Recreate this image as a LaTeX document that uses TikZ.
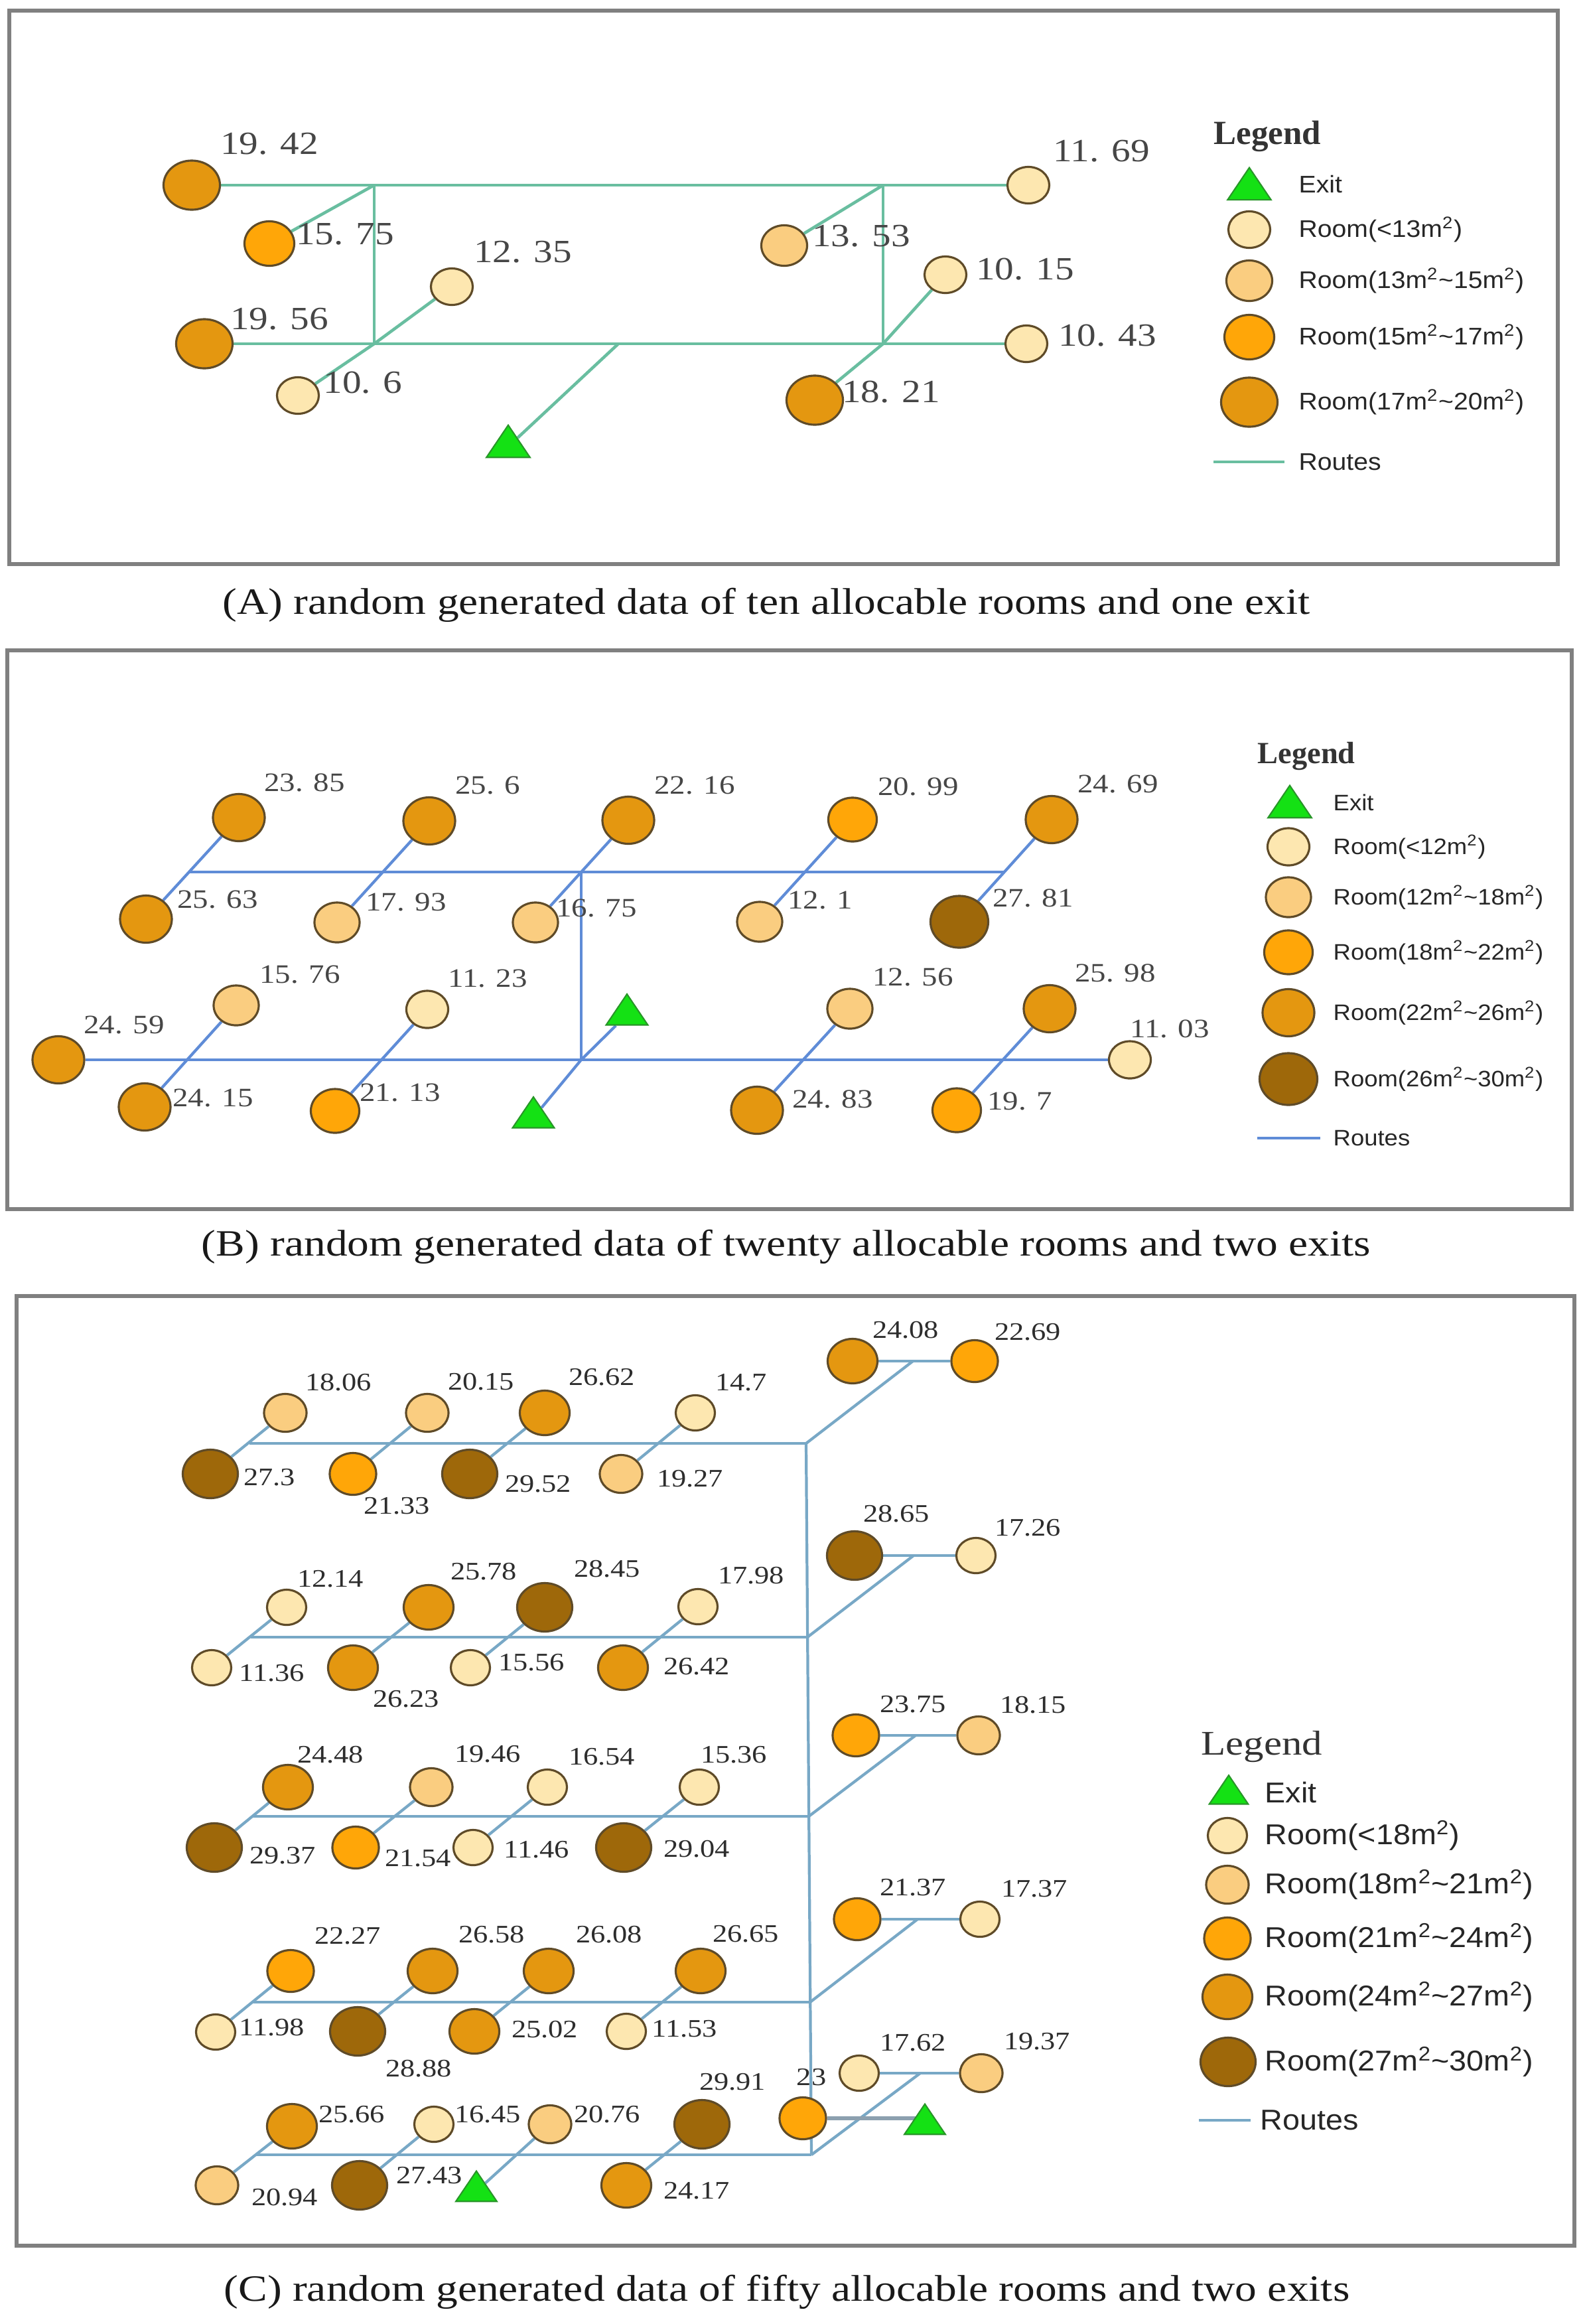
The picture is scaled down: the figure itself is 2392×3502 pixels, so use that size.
\documentclass[tikz,border=0pt]{standalone}
\usepackage{fontspec}
\setmainfont{Liberation Serif}
\newfontfamily\numf[FakeStretch=1.17]{Liberation Serif}
\newfontfamily\ttlf{Liberation Serif}
\newfontfamily\legf[FakeStretch=1.08]{Liberation Sans}
\usetikzlibrary{shapes.geometric}
\pgfdeclarelayer{paper}
\pgfdeclarelayer{bg}
\pgfsetlayers{paper,bg,main}
\definecolor{framec}{RGB}{128,128,128}
\definecolor{rA}{RGB}{105,190,160}
\definecolor{rB}{RGB}{95,140,215}
\definecolor{rC}{RGB}{120,168,198}
\definecolor{rCd}{RGB}{140,160,175}
\definecolor{f1}{RGB}{253,231,176}
\definecolor{f2}{RGB}{250,205,128}
\definecolor{f3}{RGB}{255,166,8}
\definecolor{f4}{RGB}{228,151,16}
\definecolor{f5}{RGB}{158,104,10}
\definecolor{edgec}{RGB}{95,75,40}
\definecolor{eg}{RGB}{20,225,20}
\definecolor{ege}{RGB}{40,150,40}
\definecolor{labc}{RGB}{70,70,70}
\definecolor{labcC}{RGB}{45,45,45}
\tikzset{
  rm/.style n args={3}{ellipse, draw=edgec, line width=0.9pt, fill=#1, minimum width=#2, minimum height=#3, inner sep=0pt},
  a1/.style={rm={f1}{0.63cm}{0.55cm}},
  a2/.style={rm={f2}{0.69cm}{0.61cm}},
  a3/.style={rm={f3}{0.75cm}{0.67cm}},
  a4/.style={rm={f4}{0.85cm}{0.74cm}},
  b1/.style={rm={f1}{0.63cm}{0.56cm}},
  b2/.style={rm={f2}{0.68cm}{0.60cm}},
  b3/.style={rm={f3}{0.73cm}{0.66cm}},
  b4/.style={rm={f4}{0.78cm}{0.71cm}},
  b5/.style={rm={f5}{0.87cm}{0.78cm}},
  c1/.style={rm={f1}{0.59cm}{0.53cm}},
  c2/.style={rm={f2}{0.64cm}{0.57cm}},
  c3/.style={rm={f3}{0.70cm}{0.63cm}},
  c4/.style={rm={f4}{0.75cm}{0.67cm}},
  c5/.style={rm={f5}{0.83cm}{0.73cm}},
  exitsh/.style={regular polygon, regular polygon sides=3, fill=eg, draw=ege, line width=0.6pt, inner sep=0pt, minimum size=#1},
  labA/.style={font={\numf\fontsize{13.9pt}{16pt}\selectfont}, text=labc, inner sep=0pt},
  labB/.style={font={\numf\fontsize{11.4pt}{13pt}\selectfont}, text=labc, inner sep=0pt},
  labC/.style={font={\numf\fontsize{10.8pt}{12pt}\selectfont}, text=labcC, inner sep=0pt},
  legA/.style={font={\legf\fontsize{10.3pt}{12pt}\selectfont}, text=black!85, inner sep=0pt, anchor=west},
  legB/.style={font={\legf\fontsize{9.6pt}{11pt}\selectfont}, text=black!85, inner sep=0pt, anchor=west},
  legC/.style={font={\legf\fontsize{12.3pt}{14pt}\selectfont}, text=black!85, inner sep=0pt, anchor=west},
  ttlA/.style={font={\ttlf\bfseries\fontsize{14.5pt}{16pt}\selectfont}, text=black!80, inner sep=0pt, anchor=base west},
  ttlB/.style={font={\ttlf\bfseries\fontsize{13.2pt}{15pt}\selectfont}, text=black!80, inner sep=0pt, anchor=base west},
  ttlC/.style={font={\numf\fontsize{14.8pt}{16pt}\selectfont}, text=black!80, inner sep=0pt, anchor=base west},
  capst/.style={font={\numf\fontsize{15.9pt}{18pt}\selectfont}, text=black!90, inner sep=0pt},
  framest/.style={draw=framec, line width=1.6pt},
  routeA/.style={draw=rA, line width=1.3pt},
  routeB/.style={draw=rB, line width=1.2pt},
  routeC/.style={draw=rC, line width=1.2pt},
  routeCd/.style={draw=rCd, line width=1.6pt}
}
\newcommand\exitat[3]{\begin{scope}[shift={#2}, xscale=1.17]\node[exitsh=#3, transform shape] (#1) at (0,0) {};\end{scope}}
\begin{document}
\begin{tikzpicture}[x=0.01cm, y=-0.01cm]
\useasboundingbox (0,0) rectangle (2392,3502);
\begin{pgfonlayer}{paper}
\fill[white] (0,0) rectangle (2392,3502);
\end{pgfonlayer}
% ---------------- frames
\draw[framest] (14,16) rectangle (2348,850);
\draw[framest] (11,980) rectangle (2369,1822);
\draw[framest] (25,1953) rectangle (2373,3384);
% ---------------- captions
\node[capst] (capA) at (1155,912) {(A) random generated data of ten allocable rooms and one exit};
\node[capst] (capB) at (1185,1879) {(B) random generated data of twenty allocable rooms and two exits};
\node[capst] (capC) at (1186,3454) {(C) random generated data of fifty allocable rooms and two exits};
% ================= PANEL A
\node[a4] (a1942) at (289,279) {};
\node[a3] (a1575) at (406,367) {};
\node[a1] (a1235) at (681,432) {};
\node[a4] (a1956) at (308,518) {};
\node[a1] (a106) at (449,596) {};
\node[a1] (a1169) at (1550,279) {};
\node[a2] (a1353) at (1182,370) {};
\node[a1] (a1015) at (1425,414) {};
\node[a1] (a1043) at (1547,518) {};
\node[a4] (a1821) at (1228,603) {};
\exitat{eA}{(766,673)}{0.647cm}
\node[labA] (tA1942) at (406,217) {19. 42};
\node[labA] (tA1575) at (520,353) {15. 75};
\node[labA] (tA1235) at (788,380) {12. 35};
\node[labA] (tA1956) at (421,481) {19. 56};
\node[labA] (tA106) at (547,577) {10. 6};
\node[labA] (tA1169) at (1660,228) {11. 69};
\node[labA] (tA1353) at (1298,356) {13. 53};
\node[labA] (tA1015) at (1545,406) {10. 15};
\node[labA] (tA1043) at (1669,506) {10. 43};
\node[labA] (tA1821) at (1343,591) {18. 21};
\coordinate (aJ1) at (564,279);
\coordinate (aJ2) at (1331,279);
\coordinate (aJ3) at (564,518);
\coordinate (aJ4) at (1331,518);
\coordinate (aJ5) at (932,518);
\begin{pgfonlayer}{bg}
\draw[routeA] (a1942) -- (aJ1) -- (aJ2) -- (a1169);
\draw[routeA] (a1956) -- (aJ3) -- (aJ5) -- (aJ4) -- (a1043);
\draw[routeA] (aJ1) -- (aJ3);
\draw[routeA] (aJ2) -- (aJ4);
\draw[routeA] (aJ1) -- (a1575);
\draw[routeA] (a1235) -- (aJ3) -- (a106);
\draw[routeA] (aJ2) -- (a1353);
\draw[routeA] (a1015) -- (aJ4) -- (a1821);
\draw[routeA] (aJ5) -- (eA);
\end{pgfonlayer}
% legend A
\node[ttlA] (lgA) at (1829,217) {Legend};
\exitat{lgAe}{(1883,285)}{0.647cm}
\node[legA] (lgAet) at (1957,278) {Exit};
\node[a1] (lgA1) at (1883,346) {};
\node[legA] (lgA1t) at (1957,346) {Room(<13m\textsuperscript{2})};
\node[a2] (lgA2) at (1883,423) {};
\node[legA] (lgA2t) at (1957,423) {Room(13m\textsuperscript{2}\textasciitilde15m\textsuperscript{2})};
\node[a3] (lgA3) at (1883,508) {};
\node[legA] (lgA3t) at (1957,508) {Room(15m\textsuperscript{2}\textasciitilde17m\textsuperscript{2})};
\node[a4] (lgA4) at (1883,606) {};
\node[legA] (lgA4t) at (1957,606) {Room(17m\textsuperscript{2}\textasciitilde20m\textsuperscript{2})};
\coordinate (lgArl) at (1829,696);
\coordinate (lgArr) at (1936,696);
\draw[routeA] (lgArl) -- (lgArr);
\node[legA] (lgArt) at (1957,696) {Routes};
% ================= PANEL B
\node[b4] (b2385) at (360,1232) {};
\node[b4] (b2563) at (220,1385) {};
\node[b4] (b256) at (647,1237) {};
\node[b2] (b1793) at (508,1390) {};
\node[b4] (b2216) at (947,1236) {};
\node[b2] (b1675) at (807,1390) {};
\node[b3] (b2099) at (1285,1235) {};
\node[b2] (b121) at (1145,1389) {};
\node[b4] (b2469) at (1585,1235) {};
\node[b5] (b2781) at (1446,1389) {};
\node[b2] (b1576) at (356,1515) {};
\node[b4] (b2459) at (88,1597) {};
\node[b4] (b2415) at (218,1668) {};
\node[b1] (b1123) at (644,1521) {};
\node[b3] (b2113) at (505,1674) {};
\node[b2] (b1256) at (1281,1520) {};
\node[b4] (b2598) at (1582,1520) {};
\node[b1] (b1103) at (1703,1597) {};
\node[b4] (b2483) at (1141,1673) {};
\node[b3] (b197) at (1442,1673) {};
\exitat{eBu}{(945,1529)}{0.62cm}
\exitat{eBl}{(804,1684)}{0.62cm}
\node[labB] (tB2385) at (459,1179) {23. 85};
\node[labB] (tB2563) at (328,1355) {25. 63};
\node[labB] (tB256) at (735,1183) {25. 6};
\node[labB] (tB1793) at (612,1359) {17. 93};
\node[labB] (tB2216) at (1047,1183) {22. 16};
\node[labB] (tB1675) at (899,1368) {16. 75};
\node[labB] (tB2099) at (1384,1185) {20. 99};
\node[labB] (tB121) at (1236,1356) {12. 1};
\node[labB] (tB2469) at (1685,1181) {24. 69};
\node[labB] (tB2781) at (1557,1353) {27. 81};
\node[labB] (tB1576) at (452,1468) {15. 76};
\node[labB] (tB2459) at (187,1544) {24. 59};
\node[labB] (tB2415) at (321,1654) {24. 15};
\node[labB] (tB1123) at (735,1474) {11. 23};
\node[labB] (tB2113) at (603,1646) {21. 13};
\node[labB] (tB1256) at (1376,1472) {12. 56};
\node[labB] (tB2598) at (1681,1466) {25. 98};
\node[labB] (tB1103) at (1763,1550) {11. 03};
\node[labB] (tB2483) at (1255,1656) {24. 83};
\node[labB] (tB197) at (1537,1659) {19. 7};
\coordinate (bT1) at (285,1314);
\coordinate (bT2) at (876,1314);
\coordinate (bT3) at (1514,1314);
\coordinate (bB1) at (876,1597);
\begin{pgfonlayer}{bg}
\draw[routeB] (bT1) -- (bT3);
\draw[routeB] (b2459) -- (b1103);
\draw[routeB] (bT2) -- (bB1);
\draw[routeB] (b2385) -- (b2563);
\draw[routeB] (b256) -- (b1793);
\draw[routeB] (b2216) -- (b1675);
\draw[routeB] (b2099) -- (b121);
\draw[routeB] (b2469) -- (b2781);
\draw[routeB] (b1576) -- (b2415);
\draw[routeB] (b1123) -- (b2113);
\draw[routeB] (eBu) -- (bB1) -- (eBl);
\draw[routeB] (b1256) -- (b2483);
\draw[routeB] (b2598) -- (b197);
\end{pgfonlayer}
% legend B
\node[ttlB] (lgB) at (1895,1150) {Legend};
\exitat{lgBe}{(1944,1216)}{0.647cm}
\node[legB] (lgBet) at (2009,1209) {Exit};
\node[b1] (lgB1) at (1942,1276) {};
\node[legB] (lgB1t) at (2009,1276) {Room(<12m\textsuperscript{2})};
\node[b2] (lgB2) at (1942,1352) {};
\node[legB] (lgB2t) at (2009,1352) {Room(12m\textsuperscript{2}\textasciitilde18m\textsuperscript{2})};
\node[b3] (lgB3) at (1942,1435) {};
\node[legB] (lgB3t) at (2009,1435) {Room(18m\textsuperscript{2}\textasciitilde22m\textsuperscript{2})};
\node[b4] (lgB4) at (1942,1526) {};
\node[legB] (lgB4t) at (2009,1526) {Room(22m\textsuperscript{2}\textasciitilde26m\textsuperscript{2})};
\node[b5] (lgB5) at (1942,1626) {};
\node[legB] (lgB5t) at (2009,1626) {Room(26m\textsuperscript{2}\textasciitilde30m\textsuperscript{2})};
\coordinate (lgBrl) at (1895,1715);
\coordinate (lgBrr) at (1990,1715);
\draw[routeB] (lgBrl) -- (lgBrr);
\node[legB] (lgBrt) at (2009,1715) {Routes};
% ================= PANEL C
% row 1
\node[c2] (c1806) at (430,2129) {};
\node[c5] (c273) at (317,2221) {};
\node[c2] (c2015) at (644,2129) {};
\node[c3] (c2133) at (532,2221) {};
\node[c4] (c2662) at (821,2129) {};
\node[c5] (c2952) at (708,2221) {};
\node[c1] (c147) at (1048,2129) {};
\node[c2] (c1927) at (936,2221) {};
\node[c4] (c2408) at (1285,2051) {};
\node[c3] (c2269) at (1469,2051) {};
% row 2
\node[c1] (c1214) at (432,2422) {};
\node[c1] (c1136) at (319,2513) {};
\node[c4] (c2578) at (646,2422) {};
\node[c4] (c2623) at (532,2513) {};
\node[c5] (c2845) at (821,2422) {};
\node[c1] (c1556) at (709,2513) {};
\node[c1] (c1798) at (1052,2421) {};
\node[c4] (c2642) at (939,2513) {};
\node[c5] (c2865) at (1288,2344) {};
\node[c1] (c1726) at (1471,2344) {};
% row 3
\node[c4] (c2448) at (434,2693) {};
\node[c5] (c2937) at (323,2784) {};
\node[c2] (c1946) at (650,2693) {};
\node[c3] (c2154) at (536,2784) {};
\node[c1] (c1654) at (825,2693) {};
\node[c1] (c1146) at (713,2784) {};
\node[c1] (c1536) at (1054,2693) {};
\node[c5] (c2904) at (940,2784) {};
\node[c3] (c2375) at (1290,2615) {};
\node[c2] (c1815) at (1475,2615) {};
% row 4
\node[c3] (c2227) at (438,2970) {};
\node[c1] (c1198) at (325,3062) {};
\node[c4] (c2658) at (652,2970) {};
\node[c5] (c2888) at (539,3061) {};
\node[c4] (c2608) at (827,2970) {};
\node[c4] (c2502) at (715,3061) {};
\node[c4] (c2665) at (1056,2970) {};
\node[c1] (c1153) at (944,3061) {};
\node[c3] (c2137) at (1292,2892) {};
\node[c1] (c1737) at (1477,2892) {};
% row 5
\node[c4] (c2566) at (440,3204) {};
\node[c2] (c2094) at (327,3293) {};
\node[c1] (c1645) at (654,3201) {};
\node[c5] (c2743) at (542,3293) {};
\node[c2] (c2076) at (829,3201) {};
\node[c5] (c2991) at (1058,3201) {};
\node[c4] (c2417) at (944,3293) {};
\node[c3] (c23) at (1210,3192) {};
\node[c1] (c1762) at (1295,3124) {};
\node[c2] (c1937) at (1479,3124) {};
\exitat{eC1}{(718,3302)}{0.61cm}
\exitat{eC2}{(1394,3201)}{0.61cm}
% labels C
\node[labC] (tC1806) at (510,2083) {18.06};
\node[labC] (tC273) at (406,2226) {27.3};
\node[labC] (tC2015) at (725,2082) {20.15};
\node[labC] (tC2133) at (598,2269) {21.33};
\node[labC] (tC2662) at (907,2075) {26.62};
\node[labC] (tC2952) at (811,2236) {29.52};
\node[labC] (tC147) at (1117,2083) {14.7};
\node[labC] (tC1927) at (1040,2228) {19.27};
\node[labC] (tC2408) at (1365,2004) {24.08};
\node[labC] (tC2269) at (1549,2007) {22.69};
\node[labC] (tC1214) at (498,2379) {12.14};
\node[labC] (tC1136) at (410,2521) {11.36};
\node[labC] (tC2578) at (729,2368) {25.78};
\node[labC] (tC2623) at (612,2560) {26.23};
\node[labC] (tC2845) at (915,2364) {28.45};
\node[labC] (tC1556) at (801,2505) {15.56};
\node[labC] (tC1798) at (1132,2374) {17.98};
\node[labC] (tC2642) at (1050,2511) {26.42};
\node[labC] (tC2865) at (1351,2281) {28.65};
\node[labC] (tC1726) at (1549,2302) {17.26};
\node[labC] (tC2448) at (498,2644) {24.48};
\node[labC] (tC2937) at (426,2796) {29.37};
\node[labC] (tC1946) at (735,2643) {19.46};
\node[labC] (tC2154) at (630,2800) {21.54};
\node[labC] (tC1654) at (907,2647) {16.54};
\node[labC] (tC1146) at (809,2787) {11.46};
\node[labC] (tC1536) at (1106,2644) {15.36};
\node[labC] (tC2904) at (1050,2786) {29.04};
\node[labC] (tC2375) at (1376,2568) {23.75};
\node[labC] (tC1815) at (1557,2569) {18.15};
\node[labC] (tC2227) at (524,2917) {22.27};
\node[labC] (tC1198) at (410,3055) {11.98};
\node[labC] (tC2658) at (741,2915) {26.58};
\node[labC] (tC2888) at (631,3117) {28.88};
\node[labC] (tC2608) at (918,2915) {26.08};
\node[labC] (tC2502) at (821,3058) {25.02};
\node[labC] (tC2665) at (1124,2914) {26.65};
\node[labC] (tC1153) at (1032,3057) {11.53};
\node[labC] (tC2137) at (1376,2844) {21.37};
\node[labC] (tC1737) at (1559,2846) {17.37};
\node[labC] (tC2566) at (530,3186) {25.66};
\node[labC] (tC2094) at (429,3311) {20.94};
\node[labC] (tC1645) at (735,3186) {16.45};
\node[labC] (tC2743) at (647,3278) {27.43};
\node[labC] (tC2076) at (915,3186) {20.76};
\node[labC] (tC2991) at (1104,3137) {29.91};
\node[labC] (tC2417) at (1050,3301) {24.17};
\node[labC] (tC23) at (1223,3130) {23};
\node[labC] (tC1762) at (1376,3078) {17.62};
\node[labC] (tC1937) at (1563,3076) {19.37};
% routes C
\coordinate (s1) at (1215,2175);
\coordinate (s2) at (1217,2467);
\coordinate (s3) at (1219,2737);
\coordinate (s4) at (1221,3017);
\coordinate (s5) at (1223,3247);
\coordinate (l1) at (376,2175);
\coordinate (l2) at (378,2467);
\coordinate (l3) at (380,2737);
\coordinate (l4) at (382,3017);
\coordinate (l5) at (386,3247);
\coordinate (k1) at (1376,2051);
\coordinate (k2) at (1377,2344);
\coordinate (k3) at (1380,2615);
\coordinate (k4) at (1383,2892);
\coordinate (k5) at (1387,3124);
\coordinate (kx) at (1394,3192);
\begin{pgfonlayer}{bg}
\draw[routeC] (l1) -- (s1);
\draw[routeC] (l2) -- (s2);
\draw[routeC] (l3) -- (s3);
\draw[routeC] (l4) -- (s4);
\draw[routeC] (l5) -- (s5);
\draw[routeC] (s1) -- (s5);
\draw[routeC] (s1) -- (k1);
\draw[routeC] (s2) -- (k2);
\draw[routeC] (s3) -- (k3);
\draw[routeC] (s4) -- (k4);
\draw[routeC] (s5) -- (k5);
\draw[routeC] (c2408) -- (c2269);
\draw[routeC] (c2865) -- (c1726);
\draw[routeC] (c2375) -- (c1815);
\draw[routeC] (c2137) -- (c1737);
\draw[routeC] (c1762) -- (c1937);
\draw[routeCd] (c23) -- (kx);
\draw[routeC] (c1806) -- (c273);
\draw[routeC] (c2015) -- (c2133);
\draw[routeC] (c2662) -- (c2952);
\draw[routeC] (c147) -- (c1927);
\draw[routeC] (c1214) -- (c1136);
\draw[routeC] (c2578) -- (c2623);
\draw[routeC] (c2845) -- (c1556);
\draw[routeC] (c1798) -- (c2642);
\draw[routeC] (c2448) -- (c2937);
\draw[routeC] (c1946) -- (c2154);
\draw[routeC] (c1654) -- (c1146);
\draw[routeC] (c1536) -- (c2904);
\draw[routeC] (c2227) -- (c1198);
\draw[routeC] (c2658) -- (c2888);
\draw[routeC] (c2608) -- (c2502);
\draw[routeC] (c2665) -- (c1153);
\draw[routeC] (c2566) -- (c2094);
\draw[routeC] (c1645) -- (c2743);
\draw[routeC] (c2076) -- (eC1);
\draw[routeC] (c2991) -- (c2417);
\end{pgfonlayer}
% legend C
\node[ttlC] (lgC) at (1810,2644) {Legend};
\exitat{lgCe}{(1852,2704)}{0.577cm}
\node[legC] (lgCet) at (1906,2701) {Exit};
\node[c1] (lgC1) at (1850,2766) {};
\node[legC] (lgC1t) at (1906,2766) {Room(<18m\textsuperscript{2})};
\node[c2] (lgC2) at (1850,2840) {};
\node[legC] (lgC2t) at (1906,2840) {Room(18m\textsuperscript{2}\textasciitilde21m\textsuperscript{2})};
\node[c3] (lgC3) at (1850,2921) {};
\node[legC] (lgC3t) at (1906,2921) {Room(21m\textsuperscript{2}\textasciitilde24m\textsuperscript{2})};
\node[c4] (lgC4) at (1850,3009) {};
\node[legC] (lgC4t) at (1906,3009) {Room(24m\textsuperscript{2}\textasciitilde27m\textsuperscript{2})};
\node[c5] (lgC5) at (1851,3107) {};
\node[legC] (lgC5t) at (1906,3107) {Room(27m\textsuperscript{2}\textasciitilde30m\textsuperscript{2})};
\coordinate (lgCrl) at (1807,3195);
\coordinate (lgCrr) at (1885,3195);
\draw[routeC] (lgCrl) -- (lgCrr);
\node[legC] (lgCrt) at (1899,3195) {Routes};
\end{tikzpicture}
\end{document}
